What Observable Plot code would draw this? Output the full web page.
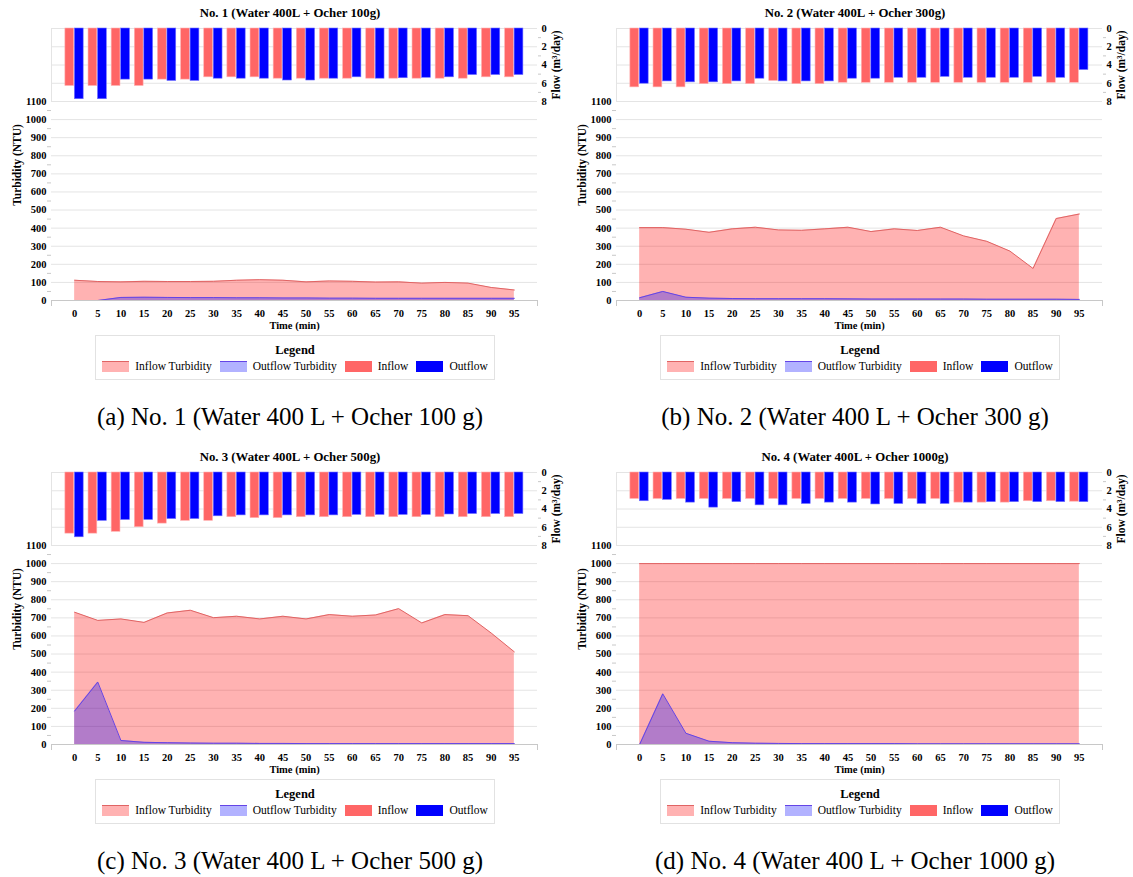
<!DOCTYPE html>
<html><head><meta charset="utf-8">
<script src="https://cdn.jsdelivr.net/npm/d3@7"></script>
<script src="https://cdn.jsdelivr.net/npm/@observablehq/plot@0.6"></script>
<style>
body{margin:0;background:#fff;font-family:"Liberation Serif","DejaVu Serif",serif;color:#000}
#root{position:relative;width:1133px;height:877px;overflow:hidden;background:#fff;font-family:"Liberation Serif","DejaVu Serif",serif}
.panel{position:absolute;width:566px;height:444px}
.ttl{position:absolute;top:5px;left:0;width:580px;text-align:center;font-weight:bold;font-size:12.8px;line-height:16px}
.flow{position:absolute;left:0;top:20px}
.turb{position:absolute;left:0;top:95px}
.legend{position:absolute;left:95px;top:335px;width:398px;height:43px;border:1px solid #e2e2e2}
.lt{position:absolute;top:6px;left:0;width:100%;text-align:center;font-weight:bold;font-size:12.5px;line-height:16px}
.row{position:absolute;top:23px;left:0;width:100%;display:flex;justify-content:center;align-items:center;font-size:11.5px;line-height:14px}
.sw{display:inline-block;width:27px;height:11px;margin-right:6px;box-sizing:border-box}
.item{display:flex;align-items:center;margin:0 4px}
.cap{position:absolute;top:402px;left:0;width:580px;text-align:center;font-size:25px;line-height:30px}
svg{overflow:visible}
svg text{font-family:"Liberation Serif","DejaVu Serif",serif}
</style>
</head><body><div id="root"></div>
<script>
const time = [0,5,10,15,20,25,30,35,40,45,50,55,60,65,70,75,80,85,90,95];
const turbTicks = [0,100,200,300,400,500,600,700,800,900,1000,1100];
const turbMinorTicks = [50,150,250,350,450,550,650,750,850,950,1050];
const flowTicks = [0,2,4,6,8];
const flowMinorTicks = [1,3,5,7];

const titles = ["No. 1 (Water 400L + Ocher 100g)","No. 2 (Water 400L + Ocher 300g)","No. 3 (Water 400L + Ocher 500g)","No. 4 (Water 400L + Ocher 1000g)"];
const captions = ["(a) No. 1 (Water 400 L + Ocher 100 g)","(b) No. 2 (Water 400 L + Ocher 300 g)","(c) No. 3 (Water 400 L + Ocher 500 g)","(d) No. 4 (Water 400 L + Ocher 1000 g)"];
const legendLabels = ["Inflow Turbidity","Outflow Turbidity","Inflow","Outflow"];

// Panel 1
const inflowTurb1 = [112,105,103,106,105,105,106,112,115,112,103,108,106,102,103,96,100,96,72,58];
const outflowTurb1 = [0,0,17,18,17,16,16,15,15,14,14,13,13,12,12,12,12,12,12,12];
const inflow1 = [6.3,6.3,6.3,6.3,5.6,5.6,5.35,5.35,5.35,5.5,5.5,5.5,5.5,5.5,5.5,5.5,5.5,5.5,5.35,5.35];
const outflow1 = [7.75,7.75,5.6,5.6,5.75,5.75,5.5,5.5,5.5,5.7,5.7,5.5,5.35,5.5,5.45,5.4,5.35,5.1,5.1,5.1];
// Panel 2
const inflowTurb2 = [403,403,394,377,396,405,390,388,396,405,381,396,387,405,357,327,273,177,453,478];
const outflowTurb2 = [15,50,18,13,11,10,10,10,10,9,8,8,8,8,8,7,7,7,7,6];
const inflow2 = [6.45,6.45,6.45,6.1,6.1,6.1,5.75,6.1,6.1,5.95,5.95,5.95,5.95,5.95,5.95,5.95,5.95,5.95,5.95,5.95];
const outflow2 = [6.05,5.8,5.9,5.9,5.8,5.5,5.8,5.8,5.8,5.5,5.5,5.4,5.4,5.3,5.4,5.4,5.4,5.3,5.4,4.55];
// Panel 3
const inflowTurb3 = [731,686,694,675,727,742,701,709,694,709,694,718,709,716,751,672,718,712,616,512];
const outflowTurb3 = [185,345,22,12,10,8,7,7,6,6,5,5,5,5,5,5,5,5,5,5];
const inflow3 = [6.7,6.7,6.5,6.0,5.6,5.3,5.3,4.9,5.0,5.0,4.9,4.9,4.9,4.9,4.9,4.9,4.9,4.9,4.9,4.9];
const outflow3 = [7.1,5.3,5.2,5.2,5.1,5.1,4.8,4.7,4.7,4.7,4.7,4.7,4.65,4.65,4.65,4.65,4.6,4.55,4.55,4.55];
// Panel 4
const inflowTurb4 = [1000,1000,1000,1000,1000,1000,1000,1000,1000,1000,1000,1000,1000,1000,1000,1000,1000,1000,1000,1000];
const outflowTurb4 = [0,280,62,18,10,7,6,5,5,5,5,5,4,4,4,4,4,4,4,4];
const inflow4 = [2.9,2.9,2.9,2.9,2.9,2.9,2.9,2.9,2.9,2.9,2.9,2.9,2.9,2.9,3.3,3.3,3.3,3.15,3.15,3.2];
const outflow4 = [3.15,3.0,3.3,3.85,3.25,3.6,3.6,3.45,3.3,3.3,3.5,3.45,3.45,3.45,3.3,3.25,3.25,3.25,3.25,3.25];

const series = [
  [inflowTurb1,outflowTurb1,inflow1,outflow1],
  [inflowTurb2,outflowTurb2,inflow2,outflow2],
  [inflowTurb3,outflowTurb3,inflow3,outflow3],
  [inflowTurb4,outflowTurb4,inflow4,outflow4]
];
const offsets = [[0,0],[565,0],[0,444],[565,444]];

const C = {
  inFill:"rgb(255,0,0)", inLine:"#e06464",
  outFill:"rgb(0,0,255)", outLine:"#6444e6",
  barIn:"#ff6666", barInStroke:"#ffb3b3",
  barOut:"#0000ff", barOutStroke:"#7070ff",
  grid:"#e4e4e4", axis:"#c8c8c8"
};
const FONT = "'Liberation Serif','DejaVu Serif',serif";
const baseStyle = {background:"transparent", fontFamily:FONT, fontSize:"10.5px", fontWeight:"bold", color:"#000", overflow:"visible"};
const fmt = d => String(d);

const root = document.getElementById("root");

series.forEach((s, i) => {
  const [inT, outT, inF, outF] = s;
  const rows = time.map((t, k) => ({t, inT: inT[k], outT: outT[k], inF: inF[k], outF: outF[k]}));
  const panel = document.createElement("div");
  panel.className = "panel";
  panel.style.left = offsets[i][0] + "px";
  panel.style.top = offsets[i][1] + "px";
  root.appendChild(panel);

  const ttl = document.createElement("div");
  ttl.className = "ttl"; ttl.textContent = titles[i];
  panel.appendChild(ttl);

  const flow = Plot.plot({
    width:566, height:89, marginTop:8, marginBottom:8, marginLeft:51, marginRight:29,
    x:{domain:[-5,100], axis:null},
    y:{domain:[0,8], reverse:true, axis:null},
    style: baseStyle,
    marks:[
      Plot.gridY(flowTicks, {stroke:C.grid, strokeOpacity:1}),
      Plot.ruleX([-5], {stroke:C.grid}),
      Plot.rect(rows, {x1:d=>d.t-2, x2:d=>d.t-0.1, y1:d=>0, y2:"inF", fill:C.barIn, stroke:C.barInStroke, strokeWidth:0.6}),
      Plot.rect(rows, {x1:d=>d.t+0.05, x2:d=>d.t+1.95, y1:d=>0, y2:"outF", fill:C.barOut, stroke:C.barOutStroke, strokeWidth:0.6}),
      Plot.axisY(flowTicks, {anchor:"right", tickSize:0, tickPadding:4, label:null, tickFormat:fmt}),
      Plot.axisY(flowMinorTicks, {anchor:"right", tickSize:3, text:null, stroke:C.axis, label:null}),
      Plot.text(["Flow (m³/day)"], {frameAnchor:"right", textAnchor:"middle", dx:19, rotate:-90, fontSize:11.5})
    ]
  });
  flow.classList.add("flow");
  panel.appendChild(flow);

  const turb = Plot.plot({
    width:566, height:245, marginTop:6, marginBottom:40, marginLeft:51, marginRight:29,
    x:{domain:[-5,100]},
    y:{domain:[0,1100]},
    style: baseStyle,
    marks:[
      Plot.gridY(turbTicks, {stroke:C.grid, strokeOpacity:1}),
      Plot.areaY(rows, {x:"t", y:"inT", fill:C.inFill, fillOpacity:0.3}),
      Plot.lineY(rows, {x:"t", y:"inT", stroke:C.inLine, strokeWidth:1}),
      Plot.areaY(rows, {x:"t", y:"outT", fill:C.outFill, fillOpacity:0.3}),
      Plot.lineY(rows, {x:"t", y:"outT", stroke:C.outLine, strokeWidth:1}),
      Plot.ruleY([0], {stroke:C.axis}),
      Plot.axisY(turbTicks, {tickSize:0, tickPadding:5, label:null, tickFormat:fmt}),
      Plot.axisY(turbMinorTicks, {tickSize:4, text:null, stroke:C.axis, label:null}),
      Plot.axisX(time, {tickSize:0, tickPadding:9, label:null, tickFormat:fmt}),
      Plot.axisX([-5,100], {tickSize:6, text:null, stroke:C.axis, label:null}),
      Plot.text(["Turbidity (NTU)"], {frameAnchor:"left", textAnchor:"middle", dx:-34, dy:-36, rotate:-90, fontSize:11.5}),
      Plot.text(["Time (min)"], {frameAnchor:"bottom", dy:28.5, fontSize:10.5})
    ]
  });
  turb.classList.add("turb");
  panel.appendChild(turb);

  const lg = document.createElement("div");
  lg.className = "legend";
  const swatches = [
    `background:rgba(255,0,0,0.3);border-top:1px solid ${C.inLine}`,
    `background:rgba(0,0,255,0.3);border-top:1px solid ${C.outLine}`,
    `background:${C.barIn}`,
    `background:${C.barOut}`
  ];
  lg.innerHTML = `<div class="lt">Legend</div><div class="row">` +
    legendLabels.map((l, k) => `<span class="item"><span class="sw" style="${swatches[k]}"></span><span>${l}</span></span>`).join("") +
    `</div>`;
  panel.appendChild(lg);

  const cap = document.createElement("div");
  cap.className = "cap"; cap.textContent = captions[i];
  panel.appendChild(cap);
});
</script>
</body></html>
